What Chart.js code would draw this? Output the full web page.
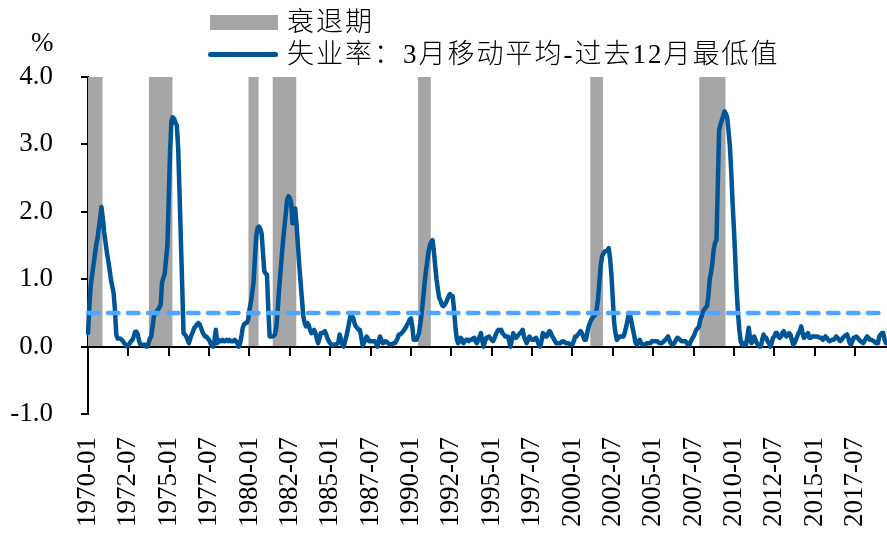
<!DOCTYPE html>
<html>
<head>
<meta charset="utf-8">
<script src="https://cdn.jsdelivr.net/npm/chart.js@4.4.1/dist/chart.umd.min.js"></script>
<style>
  html, body { margin: 0; padding: 0; background: #fff; }
  #wrap { position: relative; width: 887px; height: 534px; overflow: hidden; }
  #c { position: absolute; left: 0; top: 0; }
  .txt { position: absolute; font-family: "Liberation Serif", "Noto Sans CJK SC", serif; font-size: 27px; line-height: 30px; color: #000; white-space: nowrap; }
  .cjk { letter-spacing: 2px; font-weight: 300; }
  .swatch { position: absolute; }
</style>
</head>
<body>
<div id="wrap">
  <canvas id="c" width="887" height="534"></canvas>
  <div class="txt" style="left:31px; top:27px;">%</div>
  <div class="swatch" style="left:210px; top:15px; width:68px; height:15px; background:#a6a6a6;"></div>
  <div class="txt cjk" style="left:287px; top:7px;">衰退期</div>
  <div class="swatch" style="left:208px; top:52px; width:70px; height:5px; border-radius:2.5px; background:#005596;"></div>
  <div class="txt cjk" style="left:287px; top:39px;">失业率：3月移动平均-过去12月最低值</div>
</div>
<script>
// Unemployment rate: 3-month moving average minus the prior 12-month low (pct points), monthly from 1970-01
const gap1970s = [
  0.20, 0.60, 0.90, 1.05, 1.20, 1.35, 1.50, 1.60, 1.75, 1.90, 2.07, 1.90,
  1.70, 1.55, 1.40, 1.28, 1.15, 1.00, 0.90, 0.80, 0.55, 0.18, 0.12, 0.12,
  0.12, 0.10, 0.08, 0.05, 0.03, 0.00, 0.02, 0.05, 0.08, 0.10, 0.15, 0.22,
  0.22, 0.18, 0.08, 0.03, 0.03, 0.02, 0.03, 0.00, 0.00, 0.05, 0.12, 0.15,
  0.30, 0.45, 0.50, 0.52, 0.55, 0.58, 0.62, 0.95, 1.02, 1.08, 1.30, 1.50,
  2.20, 2.90, 3.35, 3.40, 3.38, 3.32, 3.28, 2.95, 2.30, 1.60, 0.90, 0.20,
  0.18, 0.15, 0.10, 0.05, 0.12, 0.18, 0.22, 0.28, 0.30, 0.33, 0.35, 0.33,
  0.28, 0.22, 0.18, 0.15, 0.15, 0.12, 0.10, 0.05, 0.02, 0.00, 0.10, 0.25,
  0.05, 0.10, 0.08, 0.08, 0.10, 0.08, 0.08, 0.10, 0.08, 0.10, 0.08, 0.08,
  0.08, 0.10, 0.08, 0.05, 0.00, 0.05, 0.15, 0.28, 0.33, 0.35, 0.35, 0.40
];
const gap1980s = [
  0.55, 0.65, 0.80, 0.95, 1.30, 1.63, 1.76, 1.78, 1.75, 1.68, 1.40, 1.12,
  1.08, 1.07, 0.55, 0.15, 0.15, 0.15, 0.16, 0.18, 0.30, 0.55, 0.85, 1.10,
  1.35, 1.58, 1.78, 1.98, 2.18, 2.23, 2.20, 2.13, 1.83, 1.95, 2.05, 1.80,
  1.50, 1.20, 0.95, 0.70, 0.45, 0.35, 0.30, 0.35, 0.32, 0.25, 0.20, 0.22,
  0.25, 0.20, 0.12, 0.05, 0.12, 0.20, 0.20, 0.21, 0.23, 0.18, 0.12, 0.08,
  0.05, 0.03, 0.02, 0.03, 0.03, 0.04, 0.06, 0.18, 0.10, 0.03, 0.00, 0.08,
  0.15, 0.25, 0.35, 0.45, 0.45, 0.43, 0.35, 0.30, 0.28, 0.25, 0.25, 0.15,
  0.02, 0.05, 0.10, 0.15, 0.12, 0.08, 0.08, 0.08, 0.08, 0.08, 0.05, 0.00,
  0.08, 0.15, 0.10, 0.05, 0.06, 0.08, 0.07, 0.05, 0.04, 0.03, 0.04, 0.05,
  0.05, 0.08, 0.12, 0.18, 0.18, 0.20, 0.22, 0.25, 0.28, 0.32, 0.35, 0.40
];
const gap1990s = [
  0.42, 0.30, 0.10, 0.10, 0.10, 0.15, 0.20, 0.35, 0.50, 0.70, 0.92, 1.10,
  1.25, 1.40, 1.50, 1.55, 1.58, 1.42, 1.20, 1.00, 0.85, 0.72, 0.68, 0.62,
  0.60, 0.62, 0.65, 0.70, 0.75, 0.78, 0.75, 0.75, 0.55, 0.30, 0.12, 0.05,
  0.08, 0.13, 0.10, 0.05, 0.08, 0.10, 0.10, 0.08, 0.10, 0.10, 0.12, 0.13,
  0.08, 0.05, 0.10, 0.15, 0.20, 0.08, 0.00, 0.08, 0.13, 0.14, 0.15, 0.12,
  0.10, 0.08, 0.12, 0.18, 0.22, 0.25, 0.24, 0.25, 0.20, 0.18, 0.15, 0.15,
  0.15, 0.08, 0.00, 0.10, 0.20, 0.15, 0.13, 0.15, 0.18, 0.20, 0.22, 0.25,
  0.15, 0.10, 0.05, 0.10, 0.15, 0.12, 0.10, 0.10, 0.12, 0.13, 0.08, 0.03,
  0.00, 0.08, 0.20, 0.18, 0.15, 0.15, 0.20, 0.23, 0.20, 0.15, 0.12, 0.08,
  0.05, 0.05, 0.05, 0.05, 0.07, 0.08, 0.07, 0.05, 0.05, 0.05, 0.04, 0.03
];
const gap2000s = [
  0.03, 0.08, 0.15, 0.15, 0.18, 0.20, 0.23, 0.20, 0.15, 0.10, 0.10, 0.20,
  0.30, 0.35, 0.40, 0.43, 0.45, 0.48, 0.55, 0.70, 0.95, 1.20, 1.34, 1.38,
  1.41, 1.42, 1.43, 1.46, 1.30, 1.05, 0.70, 0.35, 0.20, 0.10, 0.12, 0.15,
  0.15, 0.15, 0.15, 0.22, 0.30, 0.40, 0.50, 0.45, 0.35, 0.25, 0.15, 0.05,
  0.03, 0.08, 0.10, 0.05, 0.03, 0.03, 0.03, 0.05, 0.05, 0.05, 0.05, 0.08,
  0.08, 0.08, 0.08, 0.08, 0.06, 0.05, 0.05, 0.06, 0.08, 0.10, 0.12, 0.15,
  0.10, 0.05, 0.03, 0.03, 0.06, 0.10, 0.13, 0.12, 0.10, 0.08, 0.08, 0.08,
  0.08, 0.05, 0.03, 0.03, 0.08, 0.12, 0.15, 0.20, 0.25, 0.27, 0.30, 0.40,
  0.45, 0.52, 0.55, 0.58, 0.60, 0.75, 1.00, 1.10, 1.25, 1.45, 1.54, 1.58,
  2.40, 3.21, 3.30, 3.36, 3.42, 3.49, 3.46, 3.40, 3.20, 2.97, 2.60, 2.13
];
const gap2010s = [
  1.75, 1.30, 0.85, 0.50, 0.25, 0.08, 0.03, 0.05, 0.03, 0.03, 0.15, 0.28,
  0.12, 0.05, 0.08, 0.15, 0.10, 0.05, 0.03, 0.00, 0.00, 0.10, 0.18, 0.12,
  0.13, 0.08, 0.05, 0.00, 0.05, 0.13, 0.15, 0.20, 0.20, 0.15, 0.13, 0.15,
  0.20, 0.23, 0.18, 0.15, 0.18, 0.20, 0.18, 0.10, 0.03, 0.05, 0.10, 0.15,
  0.20, 0.23, 0.30, 0.20, 0.13, 0.15, 0.18, 0.20, 0.13, 0.13, 0.15, 0.15,
  0.15, 0.15, 0.15, 0.14, 0.13, 0.13, 0.10, 0.12, 0.15, 0.13, 0.10, 0.08,
  0.09, 0.10, 0.10, 0.12, 0.15, 0.13, 0.10, 0.08, 0.10, 0.13, 0.15, 0.17,
  0.18, 0.13, 0.05, 0.03, 0.08, 0.13, 0.14, 0.15, 0.13, 0.10, 0.08, 0.07,
  0.05, 0.08, 0.12, 0.15, 0.13, 0.10, 0.10, 0.09, 0.08, 0.06, 0.05, 0.05,
  0.15, 0.18, 0.20, 0.20, 0.10, 0.05
];
const sahmGap = [].concat(gap1970s, gap1980s, gap1990s, gap2000s, gap2010s);

// NBER recession months (first and last month, inclusive)
const recessionPeriods = [
  ['1970-01', '1970-11'],
  ['1973-11', '1975-03'],
  ['1980-01', '1980-07'],
  ['1981-07', '1982-11'],
  ['1990-07', '1991-03'],
  ['2001-03', '2001-11'],
  ['2007-12', '2009-06']
];
const RECESSION_BAND_TOP = 4.0;   // shading runs from 0 up to the top of the axis
const THRESHOLD = 0.5;            // trigger level
const START_YEAR = 1970;
const LABEL_EVERY = 30;           // one date label / tick mark every 30 months

// Monthly category labels "YYYY-MM"
const months = sahmGap.map((_, i) => {
  const y = START_YEAR + Math.floor(i / 12);
  const m = (i % 12) + 1;
  return y + '-' + (m < 10 ? '0' + m : '' + m);
});

const recessionSeries = months.map(lab =>
  recessionPeriods.some(([a, b]) => lab >= a && lab <= b) ? RECESSION_BAND_TOP : null);
const thresholdLine = months.map(() => THRESHOLD);

const serif = '"Liberation Serif", "Times New Roman", serif';
const lineName = '失业率：3月移动平均-过去12月最低值';

// rotated date labels must not reserve side padding
const noSidePadding = s => { s.paddingLeft = 0; s.paddingRight = 0; };

new Chart(document.getElementById('c').getContext('2d'), {
  type: 'line',
  data: {
    labels: months,
    datasets: [
      {
        label: '0.5',
        data: thresholdLine,
        borderColor: '#4da6ff',
        borderWidth: 4.5,
        borderDash: [10.5, 9.5],
        borderCapStyle: 'round',
        pointRadius: 0,
        order: 0
      },
      {
        label: lineName,
        data: sahmGap,
        borderColor: '#005596',
        borderWidth: 4.5,
        borderJoinStyle: 'round',
        borderCapStyle: 'round',
        pointRadius: 0,
        tension: 0,
        order: 1
      },
      {
        type: 'bar',
        label: '衰退期',
        data: recessionSeries,
        backgroundColor: '#a6a6a6',
        borderWidth: 0,
        barPercentage: 1.0,
        categoryPercentage: 1.0,
        order: 2
      }
    ]
  },
  options: {
    responsive: false,
    animation: false,
    devicePixelRatio: 1,
    layout: { padding: { top: 77, right: 1, left: 0, bottom: 0 } },
    plugins: { legend: { display: false }, tooltip: { enabled: false } },
    scales: {
      // date labels along the bottom
      x: {
        type: 'category',
        offset: false,
        position: 'bottom',
        grid: { display: false, drawTicks: false },
        border: { display: false },
        ticks: {
          autoSkip: false,
          maxRotation: 90,
          minRotation: 90,
          padding: 23,
          color: '#000',
          font: { family: serif, size: 27 },
          callback: (v, i) => (i % LABEL_EVERY === 0 ? months[i] : null)
        },
        afterFit: s => { s.height = 120; noSidePadding(s); }
      },
      // axis line at zero with its tick marks (month index 0 .. last)
      x0: {
        type: 'linear',
        position: { y: 0 },
        min: 0,
        max: months.length - 1,
        offset: false,
        grid: { display: true, drawOnChartArea: false, drawTicks: true, tickLength: 8, color: '#000', lineWidth: 2 },
        border: { display: true, color: '#000', width: 2 },
        ticks: { display: false, stepSize: LABEL_EVERY, includeBounds: false, autoSkip: false },
        afterFit: noSidePadding
      },
      y: {
        min: -1,
        max: 4,
        ticks: {
          stepSize: 1,
          padding: 28,
          color: '#000',
          font: { family: serif, size: 27 },
          callback: v => Number(v).toFixed(1)
        },
        grid: { drawOnChartArea: false, drawTicks: true, tickLength: 7, color: '#000', lineWidth: 2 },
        border: { display: true, color: '#000', width: 2 },
        afterFit: s => { s.width = 88; }
      }
    }
  }
});
</script>
</body>
</html>
